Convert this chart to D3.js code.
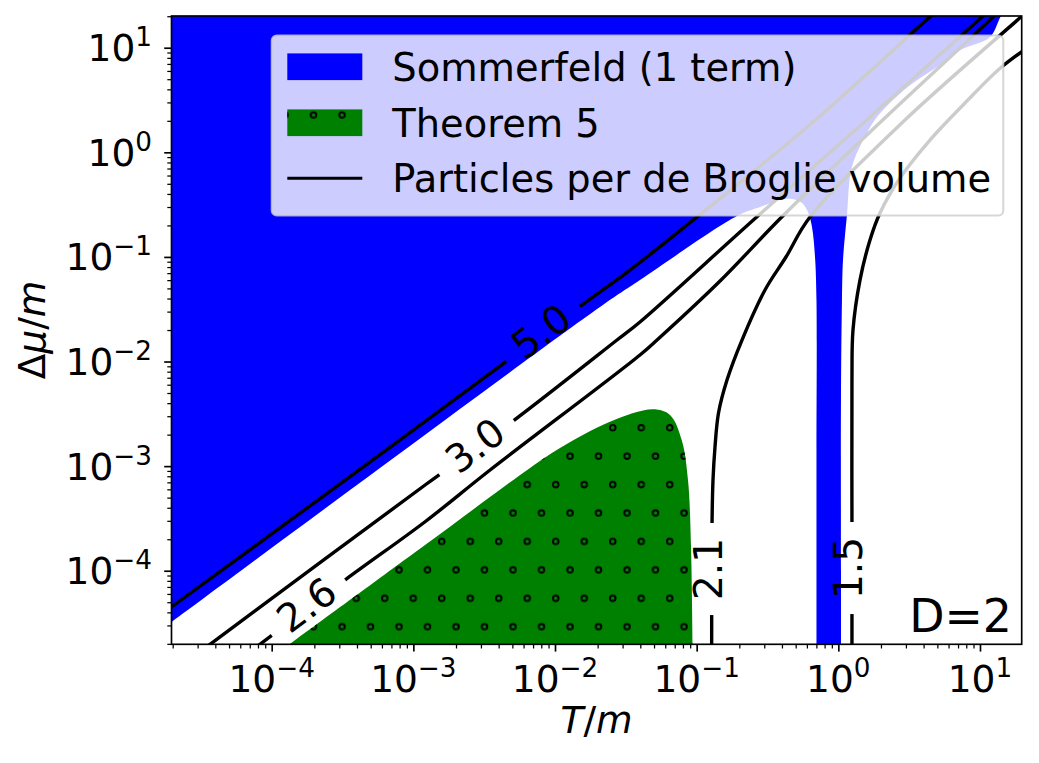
<!DOCTYPE html>
<html>
<head>
<meta charset="utf-8">
<script src="https://cdn.jsdelivr.net/npm/d3@7"></script>
<style>
  html, body { margin: 0; padding: 0; background: #fff; }
  svg { display: block; font-family: "DejaVu Sans", sans-serif; }
</style>
</head>
<body>
<svg id="chart" width="1039" height="763"></svg>
<script>
// ---------------- data ----------------
const xDomain = [1.962e-5, 19.7];   // T/m
const yDomain = [1.98e-5, 20.1];    // Δμ/m
const majorTicks = [1e-4, 1e-3, 1e-2, 1e-1, 1e0, 1e1];
const majorExponents = [-4, -3, -2, -1, 0, 1];

// Sommerfeld (1 term) validity region, boundary [T/m, Δμ/m]
const sommerfeldRegion = [
  [1.383e-5, 30], [1.383e-5, 2.278e-5], [1.977e-5, 3.254e-5], [5.81e-4, 9.59e-4],
  [2.077e-2, 3.32e-2], [3.98e-2, 6.01e-2], [0.1926, 0.246], [0.28, 0.30],
  [0.3876, 0.35], [0.471, 0.3577], [0.554, 0.3275], [0.6106, 0.2687],
  [0.6518, 0.1931], [0.6844, 9.98e-2], [0.701, 3.87e-2], [0.701, 1.425e-3],
  [0.701, 1e-4], [0.701, 1.5e-5], [0.701, 1e-6], [1.044, 1e-6], [1.044, 1.5e-5],
  [1.044, 1e-4], [1.044, 4.28e-3], [1.061, 3.87e-2],
  [1.079, 9.34e-2], [1.151, 0.2516], [1.248, 0.7236], [1.593, 1.529],
  [1.875, 2.175], [2.431, 3.162], [3.366, 4.598], [4.972, 6.54],
  [7.278, 9.506], [11.77, 12.66], [13.94, 19.66], [16.82, 30]
];

// Theorem 5 region boundary
const theorem5Region = [
  [1.108e-4, 1.633e-5], [1.346e-4, 1.991e-5], [1.209e-3, 1.76e-4], [6.66e-3, 9.59e-4],
  [1.084e-2, 1.489e-3], [2.443e-2, 2.657e-3], [4.916e-2, 3.49e-3], [6.48e-2, 3.08e-3],
  [7.84e-2, 1.776e-3], [8.684e-2, 7.36e-4], [9.12e-2, 1.696e-4], [9.37e-2, 1.633e-5]
];

// contours of particles per de Broglie volume
const contourLevels = ["5.0", "3.0", "2.6", "2.1", "1.5"];
const contour50 = [
  [1.6e-5, 3.66e-5], [1.96e-5, 4.50e-5], [3.57e-4, 7.92e-4], [4.66e-3, 1.03e-2],
  [1.45e-2, 3.25e-2], [3.38e-2, 7.49e-2], [0.1005, 0.2407], [0.663, 1.95],
  [4.44, 19.7], [5.22, 23.4]
];
const contour30 = [
  [3.38e-5, 1.82e-5], [1.21e-3, 6.60e-4], [4.97e-3, 2.65e-3], [2.739e-2, 1.605e-2],
  [3.98e-2, 2.39e-2], [0.2666, 0.2423], [1.673, 2.175], [10.33, 19.66], [12.15, 23.96]
];
const contour26 = [
  [7.62e-5, 1.82e-5], [3.29e-4, 8.15e-5], [1.21e-3, 2.94e-4], [3.48e-3, 9.18e-4],
  [3.98e-2, 1.154e-2], [5.25e-2, 1.605e-2], [0.1462, 5.88e-2], [0.4003, 0.2423],
  [2.242, 2.273], [12.36, 19.66], [14.3, 23.96]
];
const contour21 = [
  [0.1276, 1e-6], [0.1276, 1.5e-5], [0.1283, 2.675e-4], [0.1304, 7.36e-4], [0.1347, 1.523e-3],
  [0.1426, 3.22e-3], [0.1637, 6.65e-3], [0.2089, 1.605e-2], [0.3036, 4.83e-2],
  [0.427, 9.98e-2], [0.631, 0.2407], [2.954, 2.036], [19.47, 19.66], [22.5, 23.4]
];
const contour15 = [
  [1.248, 1e-6], [1.248, 1.5e-5], [1.248, 2.858e-4], [1.248, 6.65e-3], [1.269, 2.0e-2],
  [1.422, 6.01e-2], [1.673, 0.145], [1.968, 0.263], [2.725, 0.568],
  [4.437, 1.311], [7.837, 2.959], [13.94, 6.397], [22.54, 10.38]
];
const contours = [contour50, contour30, contour26, contour21, contour15];
const contourLabelAt = [
  [8.23e-3, 1.832e-2], [2.813e-3, 1.489e-3], [1.816e-4, 4.447e-5],
  [0.1276, 1.038e-4], [1.248, 1.061e-4]
];

const legendLabels = ["Sommerfeld (1 term)", "Theorem 5", "Particles per de Broglie volume"];
const panelLabel = "D=2";

// ---------------- drawing ----------------
const W = 1039, H = 763;
const PX0 = 171.5, PX1 = 1021.7, PY0 = 16, PY1 = 644.3;
const FS = 37.5;
const LFS = 38.4;

const svg = d3.select("#chart");
const x = d3.scaleLog().domain(xDomain).range([PX0, PX1]);
const y = d3.scaleLog().domain(yDomain).range([PY1, PY0]);

const defs = svg.append("defs");
defs.append("clipPath").attr("id", "plotClip")
  .append("rect").attr("x", PX0).attr("y", PY0).attr("width", PX1 - PX0).attr("height", PY1 - PY0);

// 'o' hatch
const pat = defs.append("pattern").attr("id", "hatchO")
  .attr("patternUnits", "userSpaceOnUse")
  .attr("x", 684 - 7.125).attr("y", 626.7 - 14.21)
  .attr("width", 28.5).attr("height", 56.86);
[[7.125, 14.21], [21.375, 42.64]].forEach(c => {
  pat.append("circle").attr("cx", c[0]).attr("cy", c[1]).attr("r", 2.8)
    .attr("fill", "none").attr("stroke", "#000").attr("stroke-width", 1.9);
});

const lineGen = d3.line().x(d => x(d[0])).y(d => y(d[1])).curve(d3.curveCatmullRom.alpha(0.5));

const plot = svg.append("g").attr("clip-path", "url(#plotClip)");
plot.append("path").attr("d", lineGen(sommerfeldRegion) + "Z").attr("fill", "#0000ff");
plot.append("path").attr("d", lineGen(theorem5Region) + "Z").attr("fill", "#008000");
plot.append("path").attr("d", lineGen(theorem5Region) + "Z").attr("fill", "url(#hatchO)");

const mask = defs.append("mask").attr("id", "gapMask").attr("maskUnits", "userSpaceOnUse")
  .attr("x", 0).attr("y", 0).attr("width", W).attr("height", H);
mask.append("rect").attr("x", 0).attr("y", 0).attr("width", W).attr("height", H).attr("fill", "#fff");

const lineLayer = plot.append("g").attr("mask", "url(#gapMask)");
const labelLayer = plot.append("g");

contours.forEach((c, i) => {
  lineLayer.append("path").attr("d", lineGen(c)).attr("fill", "none")
    .attr("stroke", "#000").attr("stroke-width", 3.4).attr("stroke-linejoin", "round");
  const lp = contourLabelAt[i];
  const px = x(lp[0]), py = y(lp[1]);
  const pts = c.map(d => [x(d[0]), y(d[1])]);
  let best = 0, bd = Infinity;
  pts.forEach((p, k) => { const dd = Math.hypot(p[0] - px, p[1] - py); if (dd < bd) { bd = dd; best = k; } });
  const a = pts[Math.max(0, best - 1)], b = pts[Math.min(pts.length - 1, best + 1)];
  let ang = Math.atan2(b[1] - a[1], b[0] - a[0]) * 180 / Math.PI;
  if (i >= 3) ang = -90;
  const t = labelLayer.append("text")
    .attr("transform", `translate(${px},${py}) rotate(${ang})`)
    .attr("text-anchor", "middle").attr("dy", "0.27em")
    .attr("font-size", 39).attr("fill", "#000").text(contourLevels[i]);
  const len = t.node().getComputedTextLength() + 30;
  mask.append("rect").attr("x", -len / 2).attr("y", -8).attr("width", len).attr("height", 16)
    .attr("transform", `translate(${px},${py}) rotate(${ang})`).attr("fill", "#000");
});

svg.append("text").attr("x", 1012).attr("y", 631.7).attr("text-anchor", "end")
  .attr("font-size", 45.8).text(panelLabel);

// axes
function minorTicks(dom) {
  const out = [];
  for (let e = -6; e <= 2; e++) for (let k = 2; k <= 9; k++) {
    const v = k * Math.pow(10, e);
    if (v >= dom[0] && v <= dom[1]) out.push(v);
  }
  return out;
}
const gx = svg.append("g").attr("transform", `translate(0,${PY1})`);
gx.call(d3.axisBottom(x).tickValues(minorTicks(xDomain)).tickSize(4.2).tickFormat(""));
gx.selectAll("line").attr("stroke-width", 1.25);
const gxM = svg.append("g").attr("transform", `translate(0,${PY1})`);
gxM.call(d3.axisBottom(x).tickValues(majorTicks).tickSize(7.3).tickFormat(""));
gxM.selectAll("line").attr("stroke-width", 1.67);
const gy = svg.append("g").attr("transform", `translate(${PX0},0)`);
gy.call(d3.axisLeft(y).tickValues(minorTicks(yDomain)).tickSize(4.2).tickFormat(""));
gy.selectAll("line").attr("stroke-width", 1.25);
const gyM = svg.append("g").attr("transform", `translate(${PX0},0)`);
gyM.call(d3.axisLeft(y).tickValues(majorTicks).tickSize(7.3).tickFormat(""));
gyM.selectAll("line").attr("stroke-width", 1.67);
svg.selectAll(".domain").remove();

function powLabel(t, e) {
  t.append("tspan").text("10");
  t.append("tspan").attr("dy", -0.4 * FS).attr("font-size", 0.7 * FS)
    .text(e < 0 ? "\u2212" + (-e) : String(e));
}
majorTicks.forEach((v, i) => {
  const tx = svg.append("text").attr("x", x(v)).attr("y", 691.7)
    .attr("text-anchor", "middle").attr("font-size", FS);
  powLabel(tx, majorExponents[i]);
  const ty = svg.append("text").attr("x", 152).attr("y", y(v) + 13.4)
    .attr("text-anchor", "end").attr("font-size", FS);
  powLabel(ty, majorExponents[i]);
});

svg.append("rect").attr("x", PX0).attr("y", PY0).attr("width", PX1 - PX0).attr("height", PY1 - PY0)
  .attr("fill", "none").attr("stroke", "#000").attr("stroke-width", 1.67);

const xl = svg.append("text").attr("x", 596.5).attr("y", 733).attr("text-anchor", "middle").attr("font-size", FS);
xl.append("tspan").attr("font-style", "italic").text("T");
xl.append("tspan").text("/");
xl.append("tspan").attr("font-style", "italic").text("m");
const yl = svg.append("text").attr("transform", "translate(45,330) rotate(-90)")
  .attr("text-anchor", "middle").attr("font-size", FS);
yl.append("tspan").text("\u0394");
yl.append("tspan").attr("font-style", "italic").text("\u03bc");
yl.append("tspan").text("/");
yl.append("tspan").attr("font-style", "italic").text("m");

// legend
const lg = svg.append("g");
lg.append("rect").attr("x", 271.7).attr("y", 35.5).attr("width", 731.6).attr("height", 180)
  .attr("rx", 5).attr("fill", "#fff").attr("fill-opacity", 0.8)
  .attr("stroke", "#cccccc").attr("stroke-opacity", 0.8).attr("stroke-width", 2);
const rowY = [66.7, 122.7, 178.3];
lg.append("rect").attr("x", 287.3).attr("y", rowY[0] - 13.3).attr("width", 75).attr("height", 26.7).attr("fill", "#0000ff");
lg.append("rect").attr("x", 287.3).attr("y", rowY[1] - 13.3).attr("width", 75).attr("height", 26.7).attr("fill", "#008000");
lg.append("rect").attr("x", 287.3).attr("y", rowY[1] - 13.3).attr("width", 75).attr("height", 26.7).attr("fill", "url(#hatchO)");
lg.append("line").attr("x1", 287.3).attr("x2", 362.3).attr("y1", rowY[2]).attr("y2", rowY[2])
  .attr("stroke", "#000").attr("stroke-width", 3.1);
legendLabels.forEach((s, i) => {
  lg.append("text").attr("x", 392.3).attr("y", rowY[i] + 14).attr("font-size", LFS).text(s);
});
</script>
</body>
</html>
